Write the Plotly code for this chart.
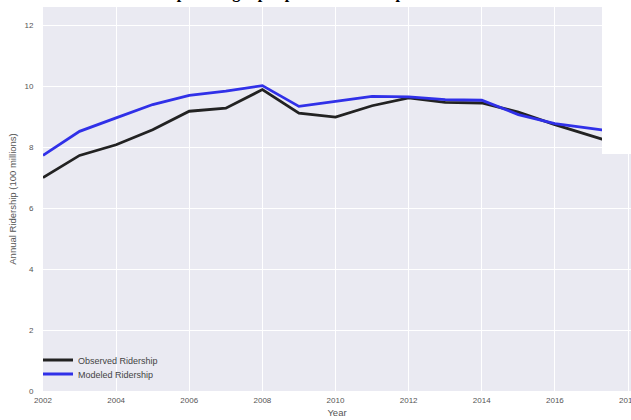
import plotly.graph_objects as go

years = list(range(2002, 2019))
observed = [7.0, 7.73, 8.08, 8.57, 9.18, 9.28, 9.89, 9.12, 8.99, 9.36, 9.62, 9.47, 9.45, 9.15, 8.74, 8.36, 8.0]
modeled = [7.73, 8.52, 8.96, 9.4, 9.7, 9.84, 10.02, 9.34, 9.5, 9.67, 9.65, 9.56, 9.54, 9.07, 8.77, 8.6, 8.45]
x_ticks = list(range(2002, 2019, 2))
y_ticks = list(range(0, 13, 2))
title_text = "Model output using input parameters compared to observed"

W, H = 631, 420
ml, mr, mt, mb = 43, 0, 7, 29
pw, ph = W - ml - mr, H - mt - mb

def px_x(px):
    return (px - ml) / pw

def px_y(py):
    return (H - mb - py) / ph

fig = go.Figure()
fig.add_trace(go.Scatter(x=years, y=observed, mode="lines", name="Observed Ridership",
                         line=dict(color="#222222", width=2.8), legend="legend"))
fig.add_trace(go.Scatter(x=years, y=modeled, mode="lines", name="Modeled Ridership",
                         line=dict(color="#3030e8", width=2.8), legend="legend2"))

sans = "Liberation Sans, Arial, sans-serif"
tickfont = dict(family=sans, size=8, color="#555555")
legfont = dict(family=sans, size=9, color="#444444")
fig.update_layout(
    width=W, height=H,
    margin=dict(l=ml, r=mr, t=mt, b=mb, autoexpand=False),
    paper_bgcolor="white", plot_bgcolor="#EAEAF2",
    showlegend=True,
    legend=dict(x=px_x(38), y=px_y(360), xanchor="left", yanchor="middle",
                bgcolor="rgba(0,0,0,0)", font=legfont, itemwidth=30),
    legend2=dict(x=px_x(38), y=px_y(374), xanchor="left", yanchor="middle",
                 bgcolor="rgba(0,0,0,0)", font=legfont, itemwidth=30),
    xaxis=dict(range=[2002, 2018 + 3 / 36.6], tickvals=x_ticks, ticktext=[str(v) for v in x_ticks],
               showgrid=True, gridcolor="white", gridwidth=1, zeroline=False, showline=False,
               tickfont=tickfont, ticks="outside", ticklen=1, tickcolor="rgba(0,0,0,0)",
               ticklabeloverflow="allow",
               title=dict(text="Year", font=dict(family=sans, size=9.5, color="#555555"), standoff=5)),
    yaxis=dict(range=[0, 12.6], tickvals=y_ticks, ticktext=[str(v) for v in y_ticks],
               showgrid=True, gridcolor="white", gridwidth=1, zeroline=False, showline=False,
               tickfont=tickfont, ticks="outside", ticklen=7, tickcolor="rgba(0,0,0,0)",
               title=dict(text="Annual Ridership (100 millions)", font=dict(family=sans, size=9.5, color="#555555"), standoff=6)),
)

fig.add_annotation(text="<b>" + title_text + "</b>", xref="paper", yref="paper",
                   x=px_x(312), y=px_y(3), xanchor="center", yanchor="bottom",
                   showarrow=False, borderpad=0,
                   font=dict(family="Liberation Serif, Times New Roman, serif", size=16, color="black"))

fig.add_shape(type="rect", xref="paper", yref="paper",
              x0=px_x(602), x1=px_x(640), y0=px_y(154), y1=px_y(-10),
              fillcolor="white", line=dict(width=0), layer="above")

fig.write_html("out.html")
